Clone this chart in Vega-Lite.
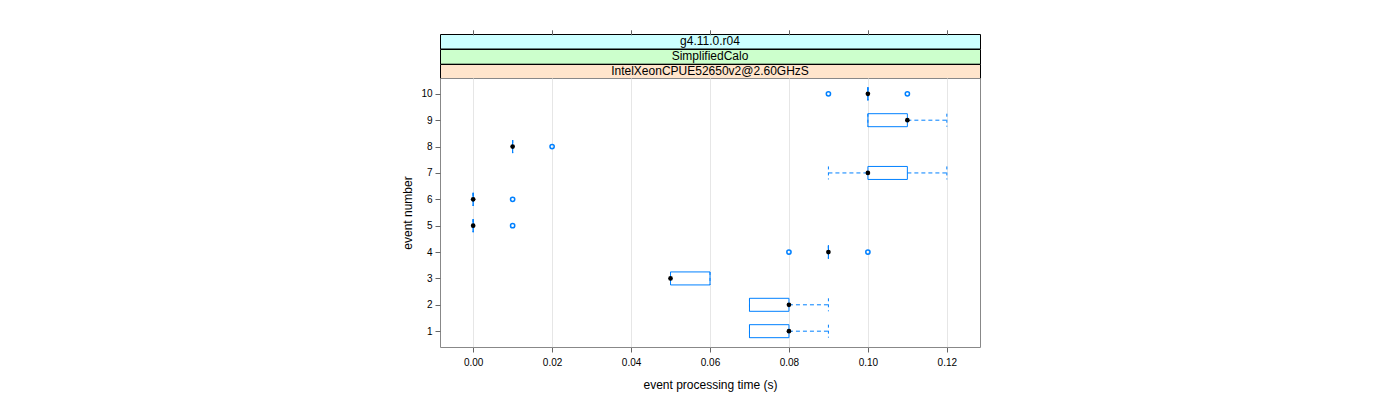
{
  "$schema": "https://vega.github.io/schema/vega-lite/v6.json",
  "autosize": {"type": "pad"},
  "padding": {"left": 401, "top": 28, "right": 10, "bottom": 5},
  "background": "white",
  "spacing": 0,
  "bounds": "flush",
  "config": {
    "font": "Liberation Sans",
    "view": {"stroke": "#000000", "strokeWidth": 1}
  },
  "datasets": {
    "boxes": [
      {"event": 1, "lower": 0.07, "q1": 0.07, "median": 0.08, "q3": 0.08, "upper": 0.09},
      {"event": 2, "lower": 0.07, "q1": 0.07, "median": 0.08, "q3": 0.08, "upper": 0.09},
      {"event": 3, "lower": 0.05, "q1": 0.05, "median": 0.05, "q3": 0.06, "upper": 0.06},
      {"event": 4, "lower": 0.09, "q1": 0.09, "median": 0.09, "q3": 0.09, "upper": 0.09},
      {"event": 5, "lower": 0.0, "q1": 0.0, "median": 0.0, "q3": 0.0, "upper": 0.0},
      {"event": 6, "lower": 0.0, "q1": 0.0, "median": 0.0, "q3": 0.0, "upper": 0.0},
      {"event": 7, "lower": 0.09, "q1": 0.10, "median": 0.10, "q3": 0.11, "upper": 0.12},
      {"event": 8, "lower": 0.01, "q1": 0.01, "median": 0.01, "q3": 0.01, "upper": 0.01},
      {"event": 9, "lower": 0.10, "q1": 0.10, "median": 0.11, "q3": 0.11, "upper": 0.12},
      {"event": 10, "lower": 0.10, "q1": 0.10, "median": 0.10, "q3": 0.10, "upper": 0.10}
    ],
    "outliers": [
      {"event": 4, "time": 0.08},
      {"event": 4, "time": 0.10},
      {"event": 5, "time": 0.01},
      {"event": 6, "time": 0.01},
      {"event": 8, "time": 0.02},
      {"event": 10, "time": 0.09},
      {"event": 10, "time": 0.11}
    ],
    "strip1": [{"label": "g4.11.0.r04"}],
    "strip2": [{"label": "SimplifiedCalo"}],
    "strip3": [{"label": "IntelXeonCPUE52650v2@2.60GHzS"}]
  },
  "vconcat": [
    {
      "width": 540, "height": 14.5,
      "view": {"fill": "#ccffff", "stroke": "#000000"},
      "data": {"name": "strip1"},
      "mark": {"type": "text", "fontSize": 12, "color": "#000000", "baseline": "middle", "align": "center"},
      "encoding": {"text": {"field": "label"}}
    },
    {
      "width": 540, "height": 14.7,
      "view": {"fill": "#ccffcc", "stroke": "#000000"},
      "data": {"name": "strip2"},
      "mark": {"type": "text", "fontSize": 12, "color": "#000000", "baseline": "middle", "align": "center"},
      "encoding": {"text": {"field": "label"}}
    },
    {
      "width": 540, "height": 14,
      "view": {"fill": "#ffe5cc", "stroke": "#000000"},
      "data": {"name": "strip3"},
      "mark": {"type": "text", "fontSize": 12, "color": "#000000", "baseline": "middle", "align": "center"},
      "encoding": {"text": {"field": "label"}}
    },
    {
      "width": 540, "height": 269,
      "view": {"stroke": "#888888"},
      "encoding": {
        "y": {
          "field": "event", "type": "quantitative",
          "scale": {"domain": [0.4, 10.6], "nice": false, "zero": false, "padding": 0},
          "axis": {
            "title": "event number", "values": [1,2,3,4,5,6,7,8,9,10],
            "grid": false, "domain": false, "tickSize": 5, "tickColor": "#666666",
            "labelFontSize": 10, "labelColor": "#000000", "labelPadding": 3,
            "titleFontSize": 12, "titleFontWeight": "normal", "titleColor": "#000000", "titlePadding": 6
          }
        }
      },
      "layer": [
        {
          "data": {"name": "boxes"},
          "mark": {"type": "rule", "color": "#0080ff", "strokeDash": [4, 3], "strokeWidth": 1},
          "encoding": {
            "x": {
              "field": "lower", "type": "quantitative",
              "scale": {"domain": [-0.0084, 0.1284], "nice": false, "zero": false, "padding": 0},
              "axis": {
                "title": "event processing time (s)", "values": [0, 0.02, 0.04, 0.06, 0.08, 0.1, 0.12],
                "format": ".2f", "grid": true, "gridColor": "#e6e6e6", "domain": false,
                "tickSize": 5, "tickColor": "#666666", "labelFontSize": 10, "labelColor": "#000000",
                "labelPadding": 5, "titleFontSize": 12, "titleFontWeight": "normal", "titleColor": "#000000",
                "titlePadding": 12
              }
            },
            "x2": {"field": "q1"}
          }
        },
        {
          "data": {"name": "boxes"},
          "mark": {"type": "rule", "color": "#0080ff", "strokeDash": [4, 3], "strokeWidth": 1},
          "encoding": {
            "x": {
              "field": "q3", "type": "quantitative",
              "scale": {"domain": [-0.0084, 0.1284], "nice": false, "zero": false, "padding": 0},
              "axis": {
                "orient": "top", "offset": 43.2, "values": [0, 0.02, 0.04, 0.06, 0.08, 0.1, 0.12],
                "labels": false, "title": null, "grid": false, "domain": false,
                "tickSize": 5, "tickColor": "#666666"
              }
            },
            "x2": {"field": "upper"}
          }
        },
        {
          "data": {"name": "boxes"},
          "mark": {"type": "rule", "color": "#0080ff", "strokeDash": [3, 3], "strokeWidth": 1, "yOffset": -6.5, "y2Offset": 6.5},
          "encoding": {
            "x": {"field": "lower", "type": "quantitative", "scale": {"domain": [-0.0084, 0.1284], "nice": false, "zero": false, "padding": 0}, "axis": null},
            "y2": {"field": "event"}
          }
        },
        {
          "data": {"name": "boxes"},
          "mark": {"type": "rule", "color": "#0080ff", "strokeDash": [3, 3], "strokeWidth": 1, "yOffset": -6.5, "y2Offset": 6.5},
          "encoding": {
            "x": {"field": "upper", "type": "quantitative", "scale": {"domain": [-0.0084, 0.1284], "nice": false, "zero": false, "padding": 0}, "axis": null},
            "y2": {"field": "event"}
          }
        },
        {
          "data": {"name": "boxes"},
          "mark": {"type": "bar", "orient": "horizontal", "size": 13, "fill": "white", "fillOpacity": 0, "stroke": "#0080ff", "strokeWidth": 1},
          "encoding": {
            "x": {"field": "q1", "type": "quantitative", "scale": {"domain": [-0.0084, 0.1284], "nice": false, "zero": false, "padding": 0}, "axis": null},
            "x2": {"field": "q3"}
          }
        },
        {
          "data": {"name": "outliers"},
          "mark": {"type": "point", "shape": "circle", "filled": false, "color": "#0080ff", "size": 18, "strokeWidth": 1.5, "opacity": 1},
          "encoding": {
            "x": {"field": "time", "type": "quantitative", "scale": {"domain": [-0.0084, 0.1284], "nice": false, "zero": false, "padding": 0}, "axis": null}
          }
        },
        {
          "data": {"name": "boxes"},
          "mark": {"type": "point", "shape": "circle", "filled": true, "color": "#000000", "size": 22, "opacity": 1},
          "encoding": {
            "x": {"field": "median", "type": "quantitative", "scale": {"domain": [-0.0084, 0.1284], "nice": false, "zero": false, "padding": 0}, "axis": null}
          }
        }
      ],
      "resolve": {"axis": {"x": "independent"}}
    }
  ]
}
